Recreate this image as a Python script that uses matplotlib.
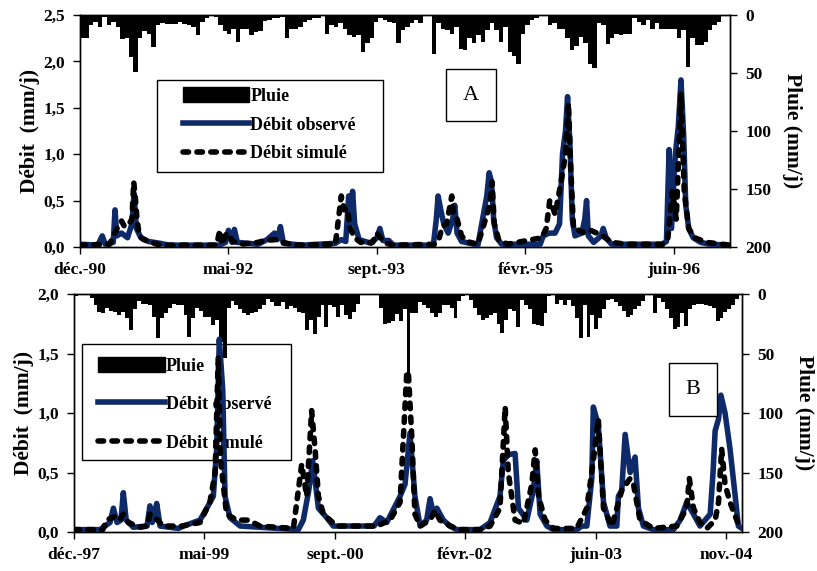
import numpy as np
import matplotlib
matplotlib.use("Agg")
import matplotlib.pyplot as plt
from matplotlib.lines import Line2D
from matplotlib.patches import Patch, Rectangle
from matplotlib.ticker import FuncFormatter

# =========================
# DATA (days since first tick, 15-day rain totals)
# =========================
STEP = 15
TICK_STEP = 500

ticks_a = ["déc.-90", "mai-92", "sept.-93", "févr.-95", "juin-96"]
ticks_b = ["déc.-97", "mai-99", "sept.-00", "févr.-02", "juin-03", "nov.-04"]

rain_a = [20, 20, 9, 6, 10, 2, 9, 6, 10, 21, 20, 36, 49, 20, 14, 16, 28, 9, 7, 8,
          8, 8, 6, 8, 9, 10, 17, 6, 3, 0, 2, 9, 14, 16, 12, 23, 12, 12, 17, 15,
          14, 5, 4, 3, 3, 2, 20, 12, 12,
          10, 6, 4, 3, 3, 0, 16, 9, 10, 7, 12, 17, 19, 17, 32, 24, 20, 6, 3, 4,
          6, 7, 24, 13, 10, 7, 4, 7, 0, 0, 34, 7, 12, 13, 16, 10, 29, 30, 20, 24,
          17, 23, 13, 7, 13, 23, 10, 32,
          35, 42, 16, 9, 4, 3, 0, 1, 9, 7, 12, 12, 20, 30, 27, 19, 24, 42, 46, 7,
          9, 25, 20, 16, 17, 16, 16, 3, 6, 9, 4, 12, 7, 12, 12, 12, 12, 20, 13, 45,
          20, 26, 26, 23, 13, 9, 6, 1, 0]

rain_b = [2, 1, 1, 1, 3, 9, 15, 16, 12, 14, 15, 18, 15, 20, 30, 13, 6, 8, 8, 9,
          19, 37, 20, 16, 12, 8, 9, 9, 18, 36, 20, 12, 14, 19, 19, 26, 22, 40, 54, 12,
          6, 9, 13, 16, 18, 16, 15, 13, 9, 4, 7, 10, 10, 7, 13, 10, 12,
          15, 16, 30, 22, 34, 19, 9, 28, 9, 11, 19, 9, 18, 21, 15, 8, 1, 0, 0, 0,
          1, 12, 25, 24, 23, 17, 23, 13, 66, 16, 16, 7, 9, 12, 16, 19, 16, 9, 9, 12,
          20, 6, 2, 1, 5, 12, 18, 22, 20, 18, 16, 25, 33, 22, 13, 14, 28,
          5, 9, 13, 25, 26, 27, 16, 2, 0, 8, 5, 9, 5, 10, 20, 37, 9, 36, 18, 29,
          20, 13, 5, 4, 7, 10, 14, 19, 18, 13, 10, 6, 1, 0, 16, 3, 7, 13, 20, 29,
          28, 16, 27, 13, 9, 8, 8, 9, 10, 12, 23, 20, 15, 13, 9, 4]

obs_a_day = [0, 60, 75, 85, 112, 118, 124, 140, 160, 175, 182, 190, 205, 230, 270, 300,
             470, 490, 500, 512, 520, 530, 600, 630, 655, 665, 675, 685, 750, 860, 880,
             895, 905, 912, 918, 925, 940, 980, 1000, 1010, 1020, 1040, 1055, 1190, 1200,
             1206, 1215, 1225, 1240, 1255, 1262, 1270, 1285, 1340, 1370, 1378, 1386, 1393,
             1403, 1420, 1550, 1560, 1580, 1600, 1615, 1625, 1635, 1642, 1650, 1658, 1667,
             1690, 1700, 1706, 1712, 1730, 1755, 1762, 1772, 1790, 1960, 1975, 1984, 1992,
             2005, 2015, 2024, 2033, 2040, 2050, 2065, 2090, 2120, 2189]
obs_a_val = [0.03, 0.02, 0.12, 0.03, 0.05, 0.40, 0.12, 0.15, 0.10, 0.25, 0.58, 0.20, 0.10,
             0.06, 0.04, 0.02, 0.02, 0.05, 0.18, 0.05, 0.19, 0.05, 0.03, 0.08, 0.15, 0.08,
             0.22, 0.04, 0.02, 0.04, 0.08, 0.06, 0.55, 0.25, 0.60, 0.25, 0.08, 0.04, 0.10,
             0.20, 0.07, 0.07, 0.02, 0.02, 0.30, 0.55, 0.40, 0.25, 0.15, 0.30, 0.45, 0.15,
             0.06, 0.02, 0.55, 0.80, 0.70, 0.30, 0.10, 0.03, 0.03, 0.12, 0.15, 0.15, 0.25,
             1.00, 1.25, 1.62, 1.10, 0.30, 0.12, 0.15, 0.30, 0.50, 0.12, 0.05, 0.12, 0.20,
             0.10, 0.03, 0.03, 0.06, 1.05, 0.20, 1.00, 1.30, 1.80, 1.20, 0.45, 0.20, 0.10,
             0.05, 0.03, 0.02]

sim_a_day = [0, 100, 110, 125, 140, 150, 165, 175, 181, 186, 192, 200, 215, 240, 270, 460,
             471, 478, 494, 505, 516, 540, 600, 620, 660, 685, 720, 860, 880, 890, 900,
             910, 925, 945, 985, 1000, 1012, 1030, 1060, 1195, 1210, 1220, 1235, 1252, 1258,
             1270, 1285, 1302, 1340, 1380, 1388, 1395, 1410, 1440, 1555, 1570, 1582, 1590,
             1600, 1620, 1635, 1645, 1652, 1662, 1680, 1700, 1720, 1760, 1790, 1840, 1965,
             1980, 1995, 2008, 2024, 2035, 2050, 2070, 2110, 2189]
sim_a_val = [0.02, 0.03, 0.10, 0.20, 0.28, 0.22, 0.25, 0.30, 0.70, 0.55, 0.30, 0.12, 0.08,
             0.05, 0.02, 0.02, 0.18, 0.03, 0.15, 0.10, 0.06, 0.03, 0.05, 0.07, 0.08, 0.05,
             0.02, 0.03, 0.55, 0.40, 0.42, 0.20, 0.10, 0.05, 0.05, 0.15, 0.10, 0.04, 0.02,
             0.03, 0.10, 0.22, 0.25, 0.55, 0.35, 0.30, 0.12, 0.06, 0.03, 0.45, 0.70, 0.25,
             0.08, 0.03, 0.10, 0.20, 0.50, 0.45, 0.35, 0.70, 1.00, 1.55, 0.90, 0.20, 0.18,
             0.15, 0.18, 0.12, 0.05, 0.03, 0.03, 0.10, 0.60, 0.30, 1.65, 0.60, 0.20, 0.10,
             0.05, 0.02]

obs_b_day = [0, 100, 138, 151, 165, 180, 189, 200, 227, 280, 291, 300, 311, 317, 330, 400,
             420, 483, 509, 534, 547, 557, 570, 579, 598, 637, 860, 879, 900, 915, 937,
             969, 994, 1150, 1173, 1199, 1250, 1269, 1288, 1307, 1327, 1352, 1365, 1378,
             1391, 1416, 1442, 1467, 1557, 1595, 1633, 1646, 1665, 1691, 1704, 1736, 1761,
             1774, 1787, 1813, 1838, 1927, 1947, 1966, 1985, 1991, 2010, 2030, 2055, 2081,
             2087, 2100, 2113, 2132, 2151, 2164, 2183, 2221, 2298, 2324, 2349, 2375, 2400,
             2439, 2450, 2458, 2471, 2480, 2496, 2515, 2535, 2547, 2561]
obs_b_val = [0.02, 0.02, 0.08, 0.20, 0.08, 0.10, 0.33, 0.10, 0.04, 0.05, 0.22, 0.08, 0.18,
             0.24, 0.05, 0.03, 0.05, 0.10, 0.20, 0.30, 0.70, 1.62, 1.20, 0.30, 0.12, 0.05,
             0.02, 0.10, 0.35, 0.60, 0.20, 0.12, 0.05, 0.05, 0.12, 0.08, 0.30, 0.40, 0.83,
             0.30, 0.05, 0.10, 0.28, 0.15, 0.20, 0.10, 0.05, 0.02, 0.02, 0.08, 0.30, 0.60,
             0.65, 0.66, 0.20, 0.10, 0.35, 0.60, 0.15, 0.05, 0.02, 0.02, 0.05, 0.05, 0.45,
             1.05, 0.90, 0.25, 0.05, 0.05, 0.30, 0.35, 0.82, 0.50, 0.63, 0.20, 0.05, 0.02,
             0.02, 0.10, 0.25, 0.15, 0.05, 0.15, 0.50, 0.85, 0.95, 1.15, 1.00, 0.70, 0.30,
             0.05, 0.03]

sim_b_day = [0, 110, 125, 157, 175, 189, 208, 253, 280, 291, 311, 342, 413, 483, 521, 541,
             553, 562, 585, 624, 668, 713, 841, 873, 892, 911, 924, 937, 956, 1007, 1071,
             1161, 1212, 1250, 1276, 1282, 1295, 1307, 1327, 1365, 1384, 1403, 1442, 1480,
             1557, 1595, 1633, 1653, 1665, 1691, 1723, 1755, 1768, 1781, 1806, 1838, 1927,
             1966, 1991, 2010, 2030, 2062, 2100, 2132, 2145, 2170, 2221, 2311, 2349, 2359,
             2375, 2400, 2426, 2458, 2471, 2483, 2496, 2515, 2541, 2554]
sim_b_val = [0.02, 0.02, 0.10, 0.13, 0.10, 0.15, 0.08, 0.04, 0.05, 0.15, 0.12, 0.05, 0.05,
             0.08, 0.25, 0.50, 1.47, 0.60, 0.15, 0.10, 0.10, 0.05, 0.03, 0.57, 0.30, 1.02,
             0.70, 0.30, 0.15, 0.05, 0.05, 0.05, 0.10, 0.25, 1.35, 1.33, 0.80, 0.15, 0.05,
             0.10, 0.18, 0.10, 0.05, 0.02, 0.02, 0.05, 0.20, 1.05, 0.50, 0.10, 0.07, 0.40,
             0.69, 0.30, 0.10, 0.03, 0.03, 0.20, 0.60, 0.95, 0.20, 0.05, 0.35, 0.45, 0.40,
             0.10, 0.03, 0.05, 0.20, 0.45, 0.20, 0.08, 0.03, 0.10, 0.25, 0.70, 0.40, 0.25,
             0.10, 0.02]

# =========================
# STYLE
# =========================
plt.rcParams["font.family"] = ["Liberation Serif", "DejaVu Serif"]
plt.rcParams["font.weight"] = "bold"
OBS_COLOR = "#0f2a68"
LW = 4.0
DASH = (0, (1.0, 1.5))
comma = FuncFormatter(lambda v, p: f"{v:.1f}".replace(".", ","))

fig = plt.figure(figsize=(8.17, 5.71), dpi=100)


def draw_panel(rect, rain, obs_day, obs_val, sim_day, sim_val, ticks, xmax, ymax,
               letter, letter_xy, leg_box, leg_xy, leg_space):
    ax = fig.add_axes(rect)
    ax2 = ax.twinx()
    # lines above the rain axis
    ax.set_zorder(ax2.get_zorder() + 1)
    ax.patch.set_visible(False)

    days = np.arange(len(rain)) * STEP
    ax2.bar(days, rain, width=STEP, align="edge", color="black", linewidth=0, zorder=2)
    ax2.set_ylim(200, 0)
    ax2.set_yticks([0, 50, 100, 150, 200])
    ax2.set_ylabel("Pluie (mm/j)", fontsize=15.5, fontweight="bold", rotation=270,
                   labelpad=22)

    ax.plot(obs_day, obs_val, color=OBS_COLOR, lw=LW, solid_joinstyle="round", zorder=3)
    ax.plot(sim_day, sim_val, color="black", lw=LW, linestyle=DASH,
            dash_capstyle="round", zorder=4)
    ax.set_xlim(0, xmax)
    ax.set_ylim(0, ymax)
    ax.set_yticks(np.arange(0, ymax + 0.01, 0.5))
    ax.yaxis.set_major_formatter(comma)
    ax.set_xticks(np.arange(len(ticks)) * TICK_STEP)
    ax.set_xticklabels(ticks)
    ax.set_ylabel("Débit  (mm/j)", fontsize=15.5, fontweight="bold", labelpad=2)

    for a in (ax, ax2):
        a.tick_params(labelsize=12.5, direction="out", length=5, width=1, pad=6)
        for s in a.spines.values():
            s.set_linewidth(1)

    ax.text(letter_xy[0], letter_xy[1], letter, transform=ax.transAxes, fontsize=16,
            fontweight="normal", ha="center", va="center", zorder=6,
            bbox=dict(boxstyle="square,pad=0.75", fc="white", ec="black", lw=1))

    # legend frame drawn separately so that it sits under the bars and lines
    x0, y0, x1, y1 = leg_box
    ax2.add_patch(Rectangle((x0, y1), x1 - x0, y0 - y1, transform=ax2.transAxes,
                            facecolor="white", edgecolor="black", lw=1, zorder=0.9))
    handles = [
        Patch(facecolor="black", edgecolor="black", label="Pluie"),
        Line2D([], [], color=OBS_COLOR, lw=LW, label="Débit observé"),
        Line2D([], [], color="black", lw=LW, linestyle=DASH,
               dash_capstyle="round", label="Débit simulé"),
    ]
    leg = ax2.legend(handles=handles, loc="upper left", bbox_to_anchor=leg_xy,
                     borderaxespad=0, frameon=False,
                     prop={"size": 13, "weight": "bold"}, handlelength=3.7,
                     handleheight=0.9, handletextpad=0.05, labelspacing=leg_space,
                     borderpad=0)
    leg.set_zorder(1)
    return ax


# =========================
# PANELS
# =========================
draw_panel([0.0979, 0.5674, 0.7956, 0.4063], rain_a, obs_a_day, obs_a_val,
           sim_a_day, sim_a_val, ticks_a, 2189, 2.5, "A", (0.6015, 0.655),
           (0.1185, 0.720, 0.466, 0.323), (0.158, 0.69), 0.62)
draw_panel([0.0906, 0.0683, 0.8176, 0.4168], rain_b, obs_b_day, obs_b_val,
           sim_b_day, sim_b_val, ticks_b, 2561, 2.0, "B", (0.927, 0.599),
           (0.012, 0.790, 0.325, 0.303), (0.036, 0.735), 1.15)

plt.savefig("out.png", dpi=100)
